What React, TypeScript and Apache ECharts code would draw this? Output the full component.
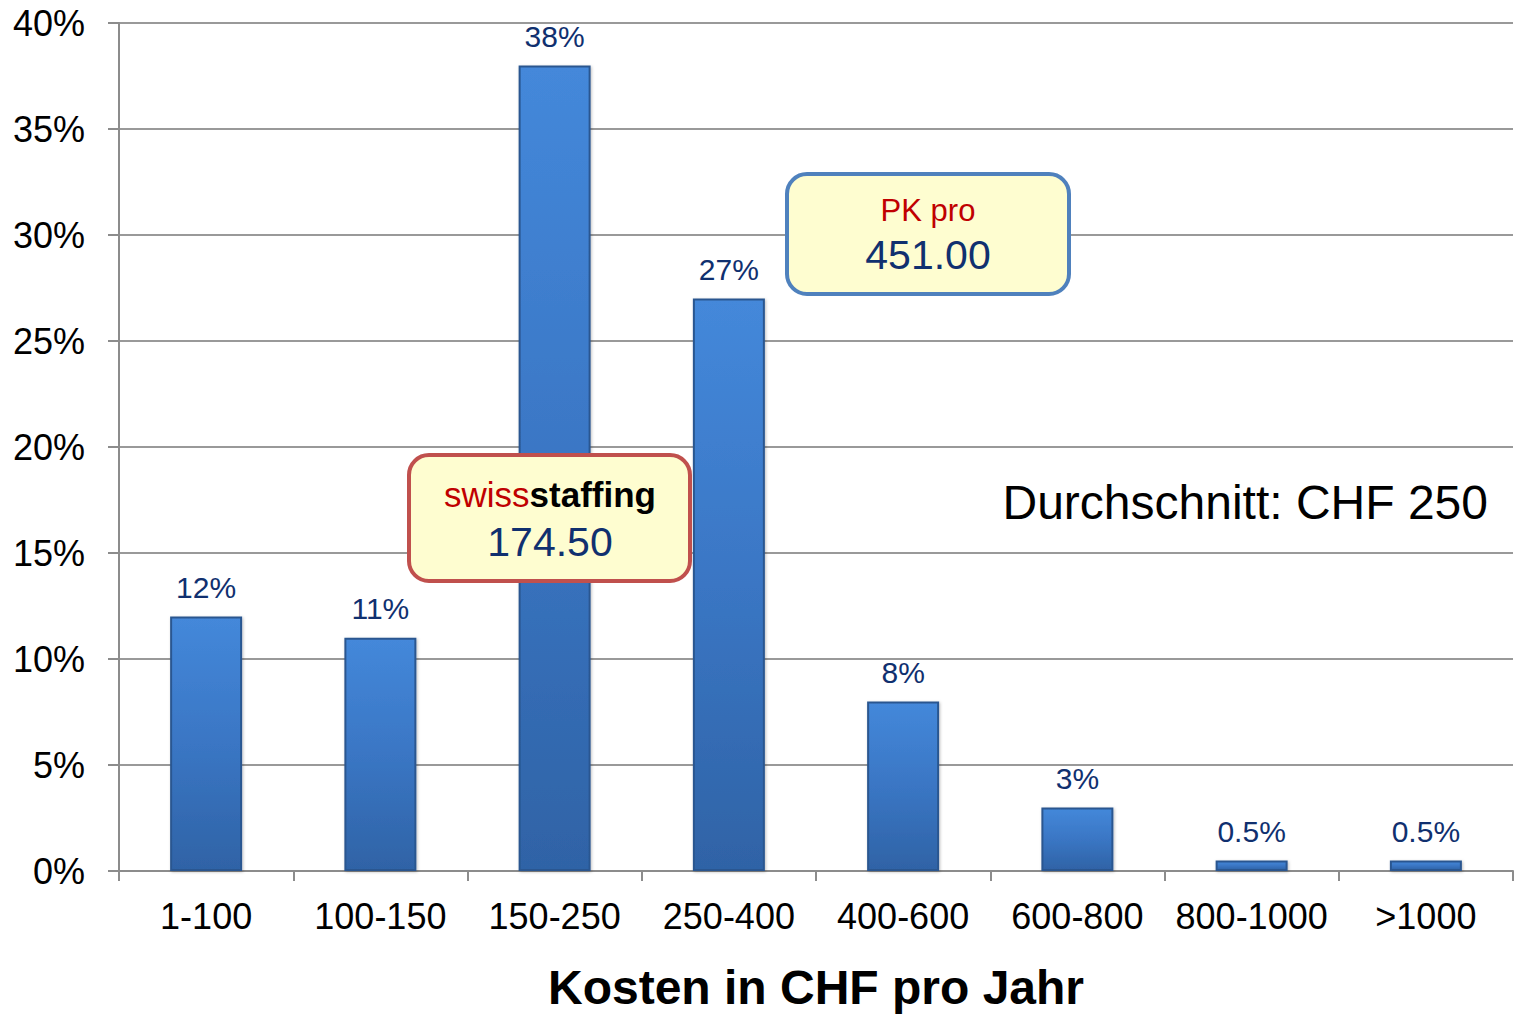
import React, { useEffect, useRef } from "react";
import * as echarts from "echarts";

const categories = ["1-100", "100-150", "150-250", "250-400", "400-600", "600-800", "800-1000", ">1000"];
const shares = [12, 11, 38, 27, 8, 3, 0.5, 0.5];
const yTicks = { min: 0, max: 40, interval: 5 };
const xTitle = "Kosten in CHF pro Jahr";
const avgText = "Durchschnitt: CHF 250";
const callout1 = { red: "swiss", bold: "staffing", value: "174.50" };
const callout2 = { title: "PK pro", value: "451.00" };

const FONT = "'Liberation Sans', Arial, sans-serif";

export default function App() {
  const ref = useRef<HTMLDivElement>(null);
  useEffect(() => {
    const chart = echarts.init(ref.current!, null, { renderer: "svg" });
    const barColor = new echarts.graphic.LinearGradient(0, 0, 0, 1, [
      { offset: 0, color: "#4488da" },
      { offset: 0.5, color: "#3a76c4" },
      { offset: 1, color: "#2f63a6" },
    ]);
    chart.setOption({
      animation: false,
      backgroundColor: "#ffffff",
      grid: { left: 119, right: 5, top: 23, bottom: 140, containLabel: false },
      xAxis: {
        type: "category",
        data: categories,
        axisLine: { lineStyle: { color: "#8c8c8c", width: 2 } },
        axisTick: { show: true, interval: 0, length: 10, lineStyle: { color: "#8c8c8c", width: 2 } },
        axisLabel: { color: "#000", fontSize: 36, fontFamily: FONT, margin: 27, interval: 0 },
        name: xTitle,
        nameLocation: "middle",
        nameGap: 92,
        nameTextStyle: { color: "#000", fontSize: 48, fontWeight: "bold", fontFamily: FONT },
      },
      yAxis: {
        type: "value",
        min: yTicks.min,
        max: yTicks.max,
        interval: yTicks.interval,
        axisLine: { show: true, lineStyle: { color: "#8c8c8c", width: 2 } },
        axisTick: { show: true, length: 11, lineStyle: { color: "#8c8c8c", width: 2 } },
        splitLine: { lineStyle: { color: "#999999", width: 2 } },
        axisLabel: { color: "#000", fontSize: 36, fontFamily: FONT, margin: 34, formatter: "{value}%" },
      },
      series: [
        {
          type: "bar",
          data: shares,
          barWidth: 72,
          itemStyle: {
            color: barColor,
            borderColor: "#2a5790",
            borderWidth: 2,
            shadowColor: "rgba(0,0,0,0.25)",
            shadowBlur: 3,
            shadowOffsetX: 1,
            shadowOffsetY: 1,
          },
          label: {
            show: true,
            position: "top",
            distance: 14,
            color: "#10306f",
            fontSize: 30,
            fontFamily: FONT,
            formatter: (p: any) => p.value + "%",
          },
        },
      ],
      graphic: [
        {
          type: "rect",
          shape: { x: 409, y: 455, width: 281, height: 126, r: 20 },
          style: { fill: "#fefdd0", stroke: "#c0504d", lineWidth: 4 },
          z: 100,
        },
        {
          type: "text",
          x: 550,
          y: 494,
          z: 101,
          style: {
            text: "{a|" + callout1.red + "}{b|" + callout1.bold + "}",
            align: "center",
            verticalAlign: "middle",
            rich: {
              a: { fill: "#c00000", fontSize: 35, fontFamily: FONT },
              b: { fill: "#000000", fontSize: 35, fontWeight: "bold", fontFamily: FONT },
            },
          },
        },
        {
          type: "text",
          x: 550,
          y: 542,
          z: 101,
          style: {
            text: callout1.value,
            fill: "#10306f",
            fontSize: 41,
            fontFamily: FONT,
            align: "center",
            verticalAlign: "middle",
          },
        },
        {
          type: "rect",
          shape: { x: 787, y: 174, width: 282, height: 120, r: 20 },
          style: { fill: "#fefdd0", stroke: "#4f81bd", lineWidth: 4 },
          z: 100,
        },
        {
          type: "text",
          x: 928,
          y: 210,
          z: 101,
          style: {
            text: callout2.title,
            fill: "#c00000",
            fontSize: 31,
            fontFamily: FONT,
            align: "center",
            verticalAlign: "middle",
          },
        },
        {
          type: "text",
          x: 928,
          y: 255,
          z: 101,
          style: {
            text: callout2.value,
            fill: "#10306f",
            fontSize: 41,
            fontFamily: FONT,
            align: "center",
            verticalAlign: "middle",
          },
        },
        {
          type: "text",
          x: 1488,
          y: 502,
          z: 101,
          style: {
            text: avgText,
            fill: "#000",
            fontSize: 48,
            fontFamily: FONT,
            align: "right",
            verticalAlign: "middle",
          },
        },
      ],
    });
    return () => chart.dispose();
  }, []);
  return (
    <div
      ref={ref}
      style={{ position: "fixed", left: 0, top: 0, width: 1518, height: 1016, background: "#fff" }}
    />
  );
}
